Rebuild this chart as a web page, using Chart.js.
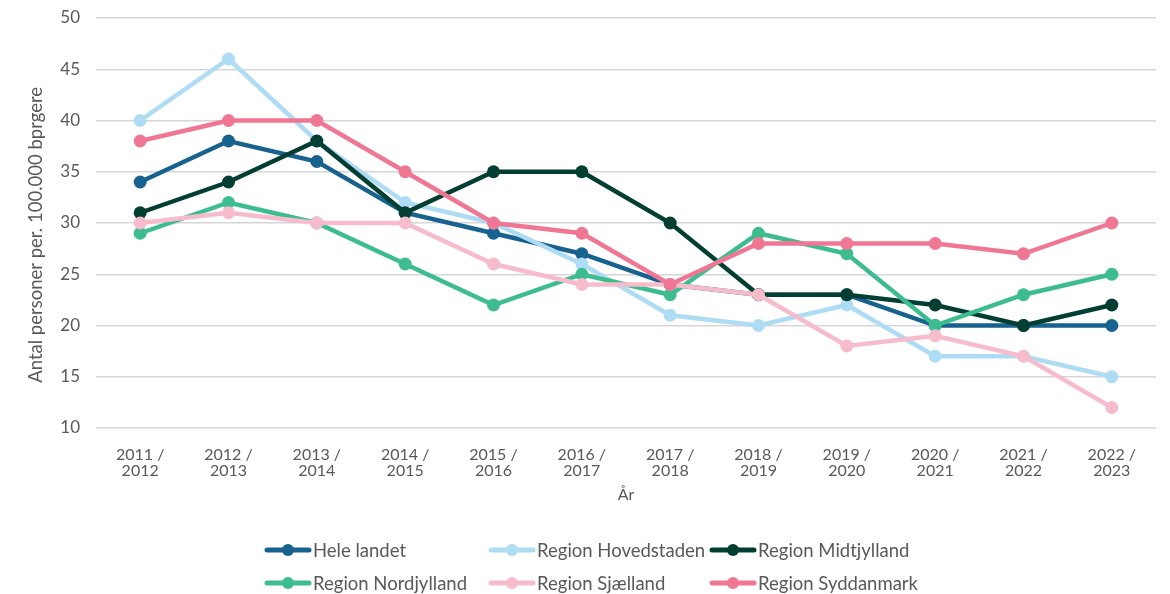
<!DOCTYPE html>
<html><head><meta charset="utf-8">
<script src="https://cdn.jsdelivr.net/npm/chart.js@4/dist/chart.umd.min.js"></script>
<style>html,body{margin:0;padding:0;background:#fff}#wrap{width:1170px;height:594px;position:relative}</style>
</head><body><div id="wrap"><canvas id="c" width="1170" height="594"></canvas></div>
<script>
const categories = [
  ['2011 /','2012'],['2012 /','2013'],['2013 /','2014'],['2014 /','2015'],
  ['2015 /','2016'],['2016 /','2017'],['2017 /','2018'],['2018 /','2019'],
  ['2019 /','2020'],['2020 /','2021'],['2021 /','2022'],['2022 /','2023']
];
const seriesNames = ['Hele landet','Region Hovedstaden','Region Midtjylland','Region Nordjylland','Region Sjælland','Region Syddanmark'];
const heleLandet   = [34, 38, 36, 31, 29, 27, 24, 23, 23, 20, 20, 20];
const hovedstaden  = [40, 46, 38, 32, 30, 26, 21, 20, 22, 17, 17, 15];
const midtjylland  = [31, 34, 38, 31, 35, 35, 30, 23, 23, 22, 20, 22];
const nordjylland  = [29, 32, 30, 26, 22, 25, 23, 29, 27, 20, 23, 25];
const sjaelland    = [30, 31, 30, 30, 26, 24, 24, 23, 18, 19, 17, 12];
const syddanmark   = [38, 40, 40, 35, 30, 29, 24, 28, 28, 28, 27, 30];
const yTicks = [10, 15, 20, 25, 30, 35, 40, 45, 50];
const yTitle = 'Antal personer per. 100.000 bprgere';
const xTitle = 'År';

const seriesValues = [heleLandet, hovedstaden, midtjylland, nordjylland, sjaelland, syddanmark];
const seriesColors = ['#17628f','#aedcf5','#033e33','#3dbd8f','#f7bccb','#ef7793'];
const FONT = 'Lato';
const TXT = '#595959';

const legendPlugin = {
  id: 'customLegend',
  afterDraw(chart) {
    const ctx = chart.ctx;
    const cols = [265, 489, 710];
    const rows = [550, 583];
    chart.data.datasets.forEach((ds, i) => {
      const x = cols[i % 3], y = rows[Math.floor(i / 3)];
      ctx.save();
      ctx.strokeStyle = ds.borderColor;
      ctx.lineWidth = 5;
      ctx.lineCap = 'round';
      ctx.beginPath(); ctx.moveTo(x + 2, y); ctx.lineTo(x + 44, y); ctx.stroke();
      ctx.fillStyle = ds.borderColor;
      ctx.beginPath(); ctx.arc(x + 23, y, 6, 0, Math.PI * 2); ctx.fill();
      ctx.fillStyle = TXT;
      ctx.font = '18.5px ' + FONT;
      ctx.textBaseline = 'middle';
      ctx.textAlign = 'left';
      ctx.fillText(ds.label, x + 48, y + 1);
      ctx.restore();
    });
  }
};

new Chart(document.getElementById('c'), {
  type: 'line',
  data: {
    labels: categories,
    datasets: seriesNames.map((name, i) => ({
      label: name,
      data: seriesValues[i],
      borderColor: seriesColors[i],
      backgroundColor: seriesColors[i],
      pointBackgroundColor: seriesColors[i],
      pointBorderWidth: 0,
      pointRadius: 6.5,
      borderWidth: 4.5,
      tension: 0,
      fill: false,
      order: -i
    }))
  },
  options: {
    responsive: false,
    animation: false,
    devicePixelRatio: 1,
    layout: { padding: { top: 18, right: 14, left: 0, bottom: 84 } },
    plugins: { legend: { display: false }, tooltip: { enabled: false } },
    scales: {
      x: {
        offset: true,
        grid: { display: false, drawTicks: false },
        border: { display: false },
        ticks: { color: TXT, font: { family: FONT, size: 16, lineHeight: 1.0 }, padding: 19, maxRotation: 0, autoSkip: false },
        title: { display: true, text: xTitle, color: TXT, font: { family: FONT, size: 16, lineHeight: 1.2 }, padding: { top: 0, bottom: 6 } },
        afterFit(scale) { scale.height = 82; scale.paddingLeft = 0; scale.paddingRight = 0; }
      },
      y: {
        min: 10, max: 50,
        afterBuildTicks(scale) { scale.ticks = yTicks.map(v => ({ value: v })); },
        grid: { color: '#d6d6d6', lineWidth: 1.5, drawTicks: false },
        border: { display: false },
        ticks: { color: TXT, font: { family: FONT, size: 17 }, padding: 16 },
        title: { display: true, text: yTitle + '     ', color: TXT, font: { family: FONT, size: 18.5, lineHeight: 1.2 }, padding: { top: 25, bottom: 0 } },
        afterFit(scale) { scale.width = 96; scale.paddingTop = 0; scale.paddingBottom = 0; }
      }
    }
  },
  plugins: [legendPlugin]
});
</script></body></html>
